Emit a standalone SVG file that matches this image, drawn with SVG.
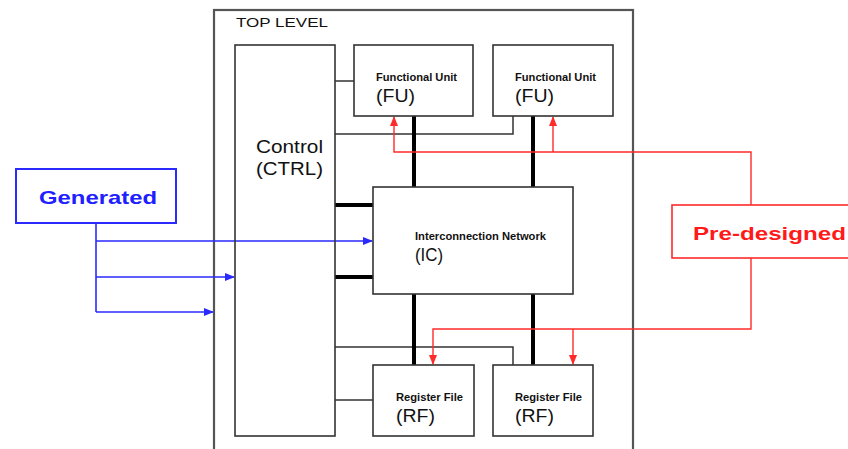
<svg xmlns="http://www.w3.org/2000/svg" width="848" height="449" viewBox="0 0 848 449">
<defs>
<style>
.box{fill:none;stroke:#333;stroke-width:1.6}
.outer{fill:none;stroke:#555;stroke-width:2.2}
.thin{fill:none;stroke:#333;stroke-width:1.5}
.bus{fill:none;stroke:#000;stroke-width:4}
.blue{fill:none;stroke:#2a2aff;stroke-width:1.6}
.red{fill:none;stroke:#ff2a2a;stroke-width:1.4}
text{font-family:"Liberation Sans",Arial,sans-serif;fill:#111}
.small{font-size:10px;font-weight:bold}
.big{font-size:18px}
.lab{font-size:19px;font-weight:bold}
</style>
<marker id="ab" markerWidth="10" markerHeight="8" refX="9" refY="4" orient="auto" markerUnits="userSpaceOnUse"><path d="M0,0 L10,4 L0,8 z" fill="#2a2aff"/></marker>
<marker id="ar" markerWidth="10" markerHeight="8" refX="9" refY="4" orient="auto" markerUnits="userSpaceOnUse"><path d="M0,0 L10,4 L0,8 z" fill="#ff2a2a"/></marker>
</defs>
<rect width="848" height="449" fill="#fff"/>
<g id="top">
<rect class="outer" x="214" y="10" width="419" height="460"/>
<text x="236" y="27" font-size="13" textLength="92" lengthAdjust="spacingAndGlyphs">TOP LEVEL</text>
</g>
<g id="connectors">
<path class="thin" d="M335,81 H354 M335,134 H513 V116 M335,347 H513 V365 M335,400 H373"/>
<path class="bus" d="M414,116 V187 M533,116 V187 M414,294 V365 M533,294 V365 M335,205 H373 M335,277 H373"/>
<path class="blue" d="M96,223 V312 M96,241 H372" marker-end="url(#ab)"/>
<path class="blue" d="M96,277 H234" marker-end="url(#ab)"/>
<path class="blue" d="M96,312 H213" marker-end="url(#ab)"/>
<path class="red" d="M751,205 V152 H394 V117" marker-end="url(#ar)"/>
<path class="red" d="M553,152 V117" marker-end="url(#ar)"/>
<path class="red" d="M751,258 V329 H433 V364" marker-end="url(#ar)"/>
<path class="red" d="M573,329 V364" marker-end="url(#ar)"/>
</g>
<g id="ctrl">
<rect class="box" x="235" y="45" width="100" height="391"/>
<text class="big" x="256" y="153" textLength="67" lengthAdjust="spacingAndGlyphs">Control</text>
<text class="big" x="256" y="175" textLength="67" lengthAdjust="spacingAndGlyphs">(CTRL)</text>
</g>
<g id="fu1">
<rect class="box" x="354" y="45" width="119" height="71"/>
<text class="small" x="376" y="81" textLength="81" lengthAdjust="spacingAndGlyphs">Functional Unit</text>
<text class="big" x="376" y="102" textLength="39" lengthAdjust="spacingAndGlyphs">(FU)</text>
</g>
<g id="fu2">
<rect class="box" x="493" y="45" width="120" height="71"/>
<text class="small" x="515" y="81" textLength="81" lengthAdjust="spacingAndGlyphs">Functional Unit</text>
<text class="big" x="515" y="102" textLength="39" lengthAdjust="spacingAndGlyphs">(FU)</text>
</g>
<g id="ic">
<rect class="box" x="373" y="187" width="200" height="107"/>
<text class="small" x="415" y="240" textLength="131" lengthAdjust="spacingAndGlyphs">Interconnection Network</text>
<text class="big" x="415" y="261" textLength="28" lengthAdjust="spacingAndGlyphs">(IC)</text>
</g>
<g id="rf1">
<rect class="box" x="373" y="365" width="101" height="71"/>
<text class="small" x="396" y="401" textLength="67" lengthAdjust="spacingAndGlyphs">Register File</text>
<text class="big" x="396" y="422" textLength="39" lengthAdjust="spacingAndGlyphs">(RF)</text>
</g>
<g id="rf2">
<rect class="box" x="493" y="365" width="100" height="71"/>
<text class="small" x="515" y="401" textLength="67" lengthAdjust="spacingAndGlyphs">Register File</text>
<text class="big" x="515" y="422" textLength="39" lengthAdjust="spacingAndGlyphs">(RF)</text>
</g>
<g id="generated">
<rect x="16" y="169" width="160" height="54" fill="#fff" stroke="#2a2aff" stroke-width="2"/>
<text class="lab" x="39" y="204" fill="#2020ff" style="fill:#2020ff" textLength="118" lengthAdjust="spacingAndGlyphs">Generated</text>
</g>
<g id="predesigned">
<rect x="672" y="205" width="190" height="53" fill="#fff" stroke="#ff2a2a" stroke-width="1.6"/>
<text class="lab" x="693" y="240" style="fill:#ff1a1a" textLength="153" lengthAdjust="spacingAndGlyphs">Pre-designed</text>
</g>
</svg>
